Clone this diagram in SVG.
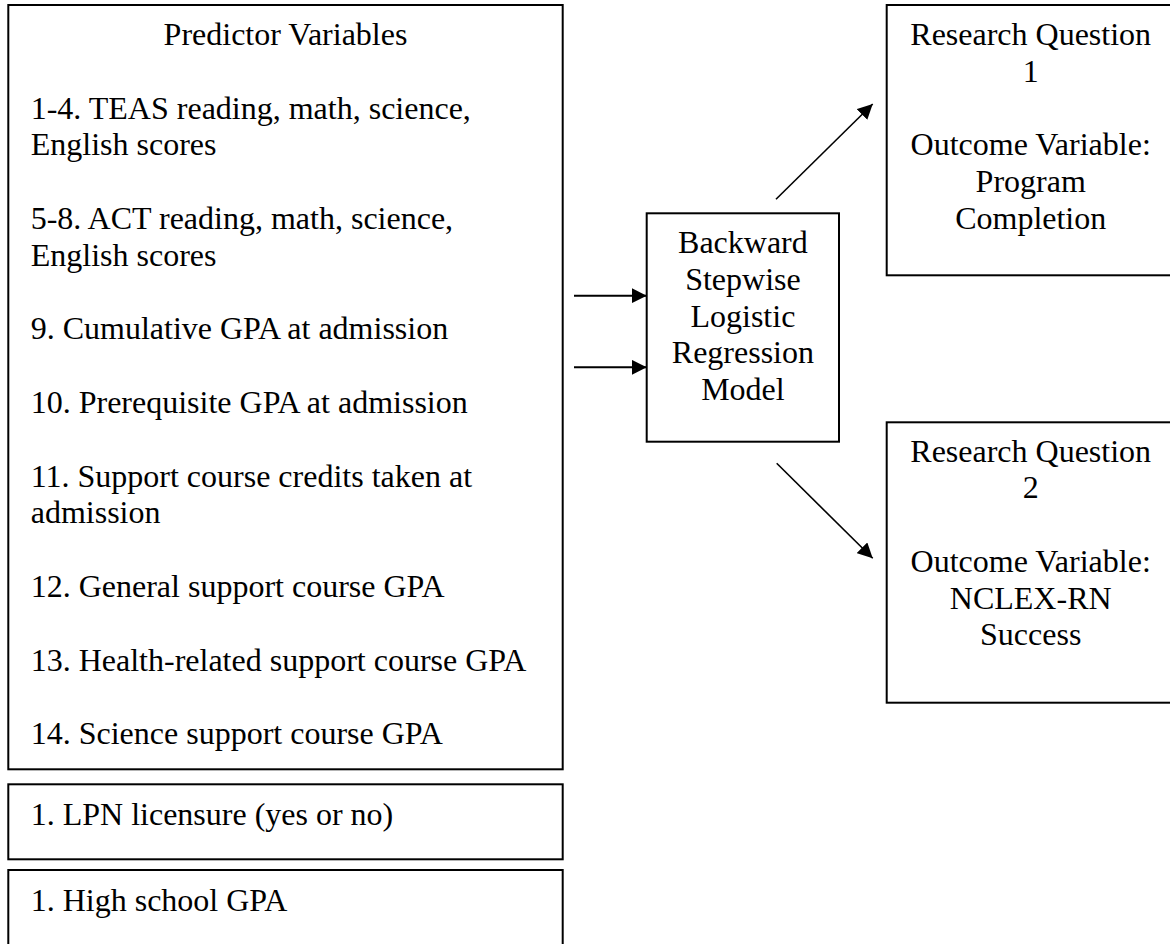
<svg xmlns="http://www.w3.org/2000/svg" width="1170" height="944" viewBox="0 0 1170 944">
  <style>
    .box { fill: #ffffff; stroke: #000000; stroke-width: 2; }
    .t { font-family: "Liberation Serif", "Times New Roman", serif; font-size: 32px; fill: #000000; }
    .c { text-anchor: middle; }
    .conn { stroke: #000000; fill: none; }
  </style>
  <defs>
    <marker id="ah" markerUnits="userSpaceOnUse" markerWidth="16" markerHeight="15" refX="15" refY="7.5" orient="auto">
      <path d="M0,0 L15,7.5 L0,15 z" fill="#000000"/>
    </marker>
  </defs>
  <rect x="0" y="0" width="1170" height="944" fill="#ffffff"/>

  <g id="predictors">
    <rect class="box" x="8.3" y="5" width="554.4" height="764.3"/>
    <text class="t c" x="285.5" y="45">Predictor Variables</text>
    <text class="t" x="30.7" y="118.6">1-4. TEAS reading, math, science,</text>
    <text class="t" x="30.7" y="155.4">English scores</text>
    <text class="t" x="30.7" y="229">5-8. ACT reading, math, science,</text>
    <text class="t" x="30.7" y="265.8">English scores</text>
    <text class="t" x="30.7" y="339.4">9. Cumulative GPA at admission</text>
    <text class="t" x="30.7" y="413">10. Prerequisite GPA at admission</text>
    <text class="t" x="30.7" y="486.6">11. Support course credits taken at</text>
    <text class="t" x="30.7" y="523.4">admission</text>
    <text class="t" x="30.7" y="597">12. General support course GPA</text>
    <text class="t" x="30.7" y="670.6">13. Health-related support course GPA</text>
    <text class="t" x="30.7" y="744.2">14. Science support course GPA</text>
  </g>

  <g id="lpn">
    <rect class="box" x="8.3" y="784.3" width="554.4" height="75"/>
    <text class="t" x="30.7" y="825">1. LPN licensure (yes or no)</text>
  </g>

  <g id="highschool">
    <rect class="box" x="8.3" y="870" width="554.4" height="90"/>
    <text class="t" x="30.7" y="910.7">1. High school GPA</text>
  </g>

  <g id="model">
    <rect class="box" x="646.7" y="213.3" width="192.3" height="228.4"/>
    <text class="t c" x="742.9" y="253.3">Backward</text>
    <text class="t c" x="742.9" y="290">Stepwise</text>
    <text class="t c" x="742.9" y="326.7">Logistic</text>
    <text class="t c" x="742.9" y="363.4">Regression</text>
    <text class="t c" x="742.9" y="400.1">Model</text>
  </g>

  <g id="rq1">
    <rect class="box" x="886.7" y="5" width="290" height="270.3"/>
    <text class="t c" x="1030.7" y="45">Research Question</text>
    <text class="t c" x="1030.7" y="81.7">1</text>
    <text class="t c" x="1030.7" y="155.1">Outcome Variable:</text>
    <text class="t c" x="1030.7" y="191.8">Program</text>
    <text class="t c" x="1030.7" y="228.5">Completion</text>
  </g>

  <g id="rq2">
    <rect class="box" x="886.7" y="422.3" width="290" height="280.4"/>
    <text class="t c" x="1030.7" y="461.7">Research Question</text>
    <text class="t c" x="1030.7" y="498.4">2</text>
    <text class="t c" x="1030.7" y="571.8">Outcome Variable:</text>
    <text class="t c" x="1030.7" y="608.5">NCLEX-RN</text>
    <text class="t c" x="1030.7" y="645.2">Success</text>
  </g>

  <g id="connectors">
    <line class="conn" x1="574" y1="295.7" x2="646.7" y2="295.7" stroke-width="2" marker-end="url(#ah)"/>
    <line class="conn" x1="574" y1="367.3" x2="646.7" y2="367.3" stroke-width="2" marker-end="url(#ah)"/>
    <line class="conn" x1="776" y1="199.3" x2="872.7" y2="104" stroke-width="1.6" marker-end="url(#ah)"/>
    <line class="conn" x1="776.7" y1="463.3" x2="872.7" y2="558.3" stroke-width="1.6" marker-end="url(#ah)"/>
  </g>
</svg>
